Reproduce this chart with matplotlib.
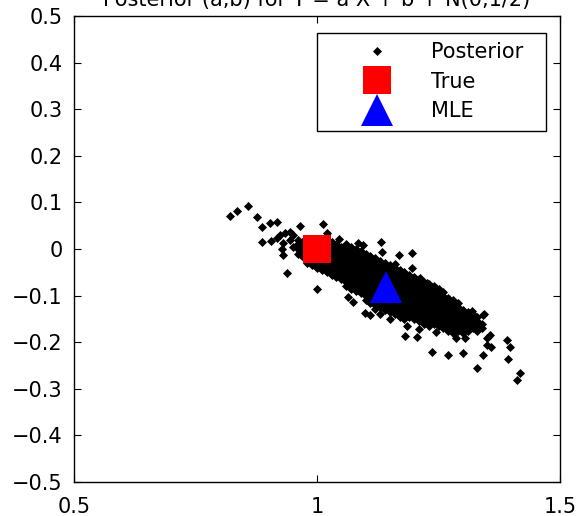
import matplotlib
matplotlib.use("Agg")
import matplotlib.pyplot as plt

plt.rcParams['font.family'] = ['DejaVu Sans']

# dense part of the posterior cloud: one column of b values per a value
core_cols = [0.96, 0.97, 0.98, 0.99, 1.00, 1.01, 1.02, 1.03, 1.04, 1.05,
             1.06, 1.07, 1.08, 1.09, 1.10, 1.11, 1.12, 1.13, 1.14, 1.15,
             1.16, 1.17, 1.18, 1.19, 1.20, 1.21, 1.22, 1.23, 1.24, 1.25,
             1.26, 1.27, 1.28, 1.29, 1.30, 1.31, 1.32, 1.33, 1.34]
core_rows = [
    [0.02, 0.01, 0.00, -0.01],
    [0.015, 0.005, -0.005, -0.015],
    [0.02, 0.01, 0.00, -0.01, -0.02, -0.03],
    [0.015, 0.005, -0.005, -0.015, -0.025, -0.035],
    [0.02, 0.01, 0.00, -0.01, -0.02, -0.03, -0.04],
    [0.015, 0.005, -0.005, -0.015, -0.025, -0.035, -0.045],
    [0.02, 0.01, 0.00, -0.01, -0.02, -0.03, -0.04, -0.05],
    [0.015, 0.005, -0.005, -0.015, -0.025, -0.035, -0.045, -0.055],
    [0.01, 0.00, -0.01, -0.02, -0.03, -0.04, -0.05, -0.06],
    [0.005, -0.005, -0.015, -0.025, -0.035, -0.045, -0.055, -0.065],
    [0.01, 0.00, -0.01, -0.02, -0.03, -0.04, -0.05, -0.06, -0.07, -0.08],
    [0.005, -0.005, -0.015, -0.025, -0.035, -0.045, -0.055, -0.065, -0.075, -0.085],
    [0.00, -0.01, -0.02, -0.03, -0.04, -0.05, -0.06, -0.07, -0.08, -0.09],
    [-0.005, -0.015, -0.025, -0.035, -0.045, -0.055, -0.065, -0.075, -0.085, -0.095],
    [-0.01, -0.02, -0.03, -0.04, -0.05, -0.06, -0.07, -0.08, -0.09, -0.10, -0.11],
    [-0.015, -0.025, -0.035, -0.045, -0.055, -0.065, -0.075, -0.085, -0.095, -0.105, -0.115],
    [-0.02, -0.03, -0.04, -0.05, -0.06, -0.07, -0.08, -0.09, -0.10, -0.11, -0.12],
    [-0.025, -0.035, -0.045, -0.055, -0.065, -0.075, -0.085, -0.095, -0.105, -0.115, -0.125],
    [-0.03, -0.04, -0.05, -0.06, -0.07, -0.08, -0.09, -0.10, -0.11, -0.12, -0.13],
    [-0.035, -0.045, -0.055, -0.065, -0.075, -0.085, -0.095, -0.105, -0.115, -0.125, -0.135],
    [-0.04, -0.05, -0.06, -0.07, -0.08, -0.09, -0.10, -0.11, -0.12, -0.13, -0.14],
    [-0.045, -0.055, -0.065, -0.075, -0.085, -0.095, -0.105, -0.115, -0.125, -0.135, -0.145],
    [-0.05, -0.06, -0.07, -0.08, -0.09, -0.10, -0.11, -0.12, -0.13, -0.14, -0.15],
    [-0.055, -0.065, -0.075, -0.085, -0.095, -0.105, -0.115, -0.125, -0.135, -0.145],
    [-0.06, -0.07, -0.08, -0.09, -0.10, -0.11, -0.12, -0.13, -0.14, -0.15],
    [-0.065, -0.075, -0.085, -0.095, -0.105, -0.115, -0.125, -0.135, -0.145, -0.155],
    [-0.07, -0.08, -0.09, -0.10, -0.11, -0.12, -0.13, -0.14, -0.15, -0.16],
    [-0.075, -0.085, -0.095, -0.105, -0.115, -0.125, -0.135, -0.145, -0.155, -0.165],
    [-0.08, -0.09, -0.10, -0.11, -0.12, -0.13, -0.14, -0.15, -0.16],
    [-0.085, -0.095, -0.105, -0.115, -0.125, -0.135, -0.145, -0.155, -0.165],
    [-0.10, -0.11, -0.12, -0.13, -0.14, -0.15, -0.16, -0.17],
    [-0.105, -0.115, -0.125, -0.135, -0.145, -0.155, -0.165, -0.175],
    [-0.11, -0.12, -0.13, -0.14, -0.15, -0.16, -0.17, -0.18],
    [-0.115, -0.125, -0.135, -0.145, -0.155, -0.165, -0.175],
    [-0.13, -0.14, -0.15, -0.16, -0.17, -0.18],
    [-0.135, -0.145, -0.155, -0.165, -0.175],
    [-0.14, -0.15, -0.16, -0.17],
    [-0.145, -0.155, -0.165, -0.175],
    [-0.16, -0.17],
]

# scattered samples outside the dense core
stray_a = [0.820, 0.835, 0.857, 0.876, 0.886, 0.903, 0.917, 0.886, 0.905, 0.924,
           0.931, 0.939, 0.965, 1.013, 1.020, 1.001, 1.095, 1.132, 1.133, 1.169,
           1.195, 1.212, 1.075, 1.099, 1.109, 1.181, 1.205, 1.236, 1.270, 1.301,
           1.329, 1.342, 1.349, 1.357, 1.344, 1.390, 1.397, 1.394, 1.411, 1.418,
           0.918, 0.934, 0.944, 0.951, 0.959, 0.930, 0.928, 0.945, 0.950, 1.064,
           1.318, 1.342, 1.260, 1.226, 1.355, 1.350, 1.185, 1.210, 1.245, 1.150,
           1.130, 1.045, 1.085, 1.160, 1.285, 1.305, 1.195, 1.120]
stray_b = [0.071, 0.082, 0.092, 0.068, 0.047, 0.055, 0.059, 0.016, 0.018, 0.030,
           0.012, -0.051, 0.049, 0.053, 0.034, -0.086, 0.009, 0.014, -0.006, -0.013,
           -0.009, -0.063, -0.113, -0.137, -0.142, -0.186, -0.188, -0.220, -0.228, -0.224,
           -0.256, -0.228, -0.206, -0.210, -0.140, -0.195, -0.210, -0.235, -0.281, -0.266,
           0.023, 0.034, 0.036, 0.030, 0.009, -0.013, 0.001, 0.020, 0.005, -0.102,
           -0.134, -0.141, -0.092, -0.074, -0.185, -0.190, -0.165, -0.172, -0.178, -0.150,
           -0.140, 0.022, 0.012, -0.033, -0.190, -0.192, -0.040, -0.128]

true_ab = (1.0, 0.0)
mle_ab = (1.143, -0.082)

x_ticks = [0.5, 1.0, 1.5]
x_ticklabels = ['0.5', '1', '1.5']
y_ticks = [0.5, 0.4, 0.3, 0.2, 0.1, 0.0, -0.1, -0.2, -0.3, -0.4, -0.5]
y_ticklabels = ['0.5', '0.4', '0.3', '0.2', '0.1', '0',
                '\u22120.1', '\u22120.2', '\u22120.3', '\u22120.4', '\u22120.5']

title = 'Posterior (a,b) for Y = a X + b + N(0,1/2)'

post_a = []
post_b = []
for a, col in zip(core_cols, core_rows):
    post_a += [a] * len(col)
    post_b += col
post_a += stray_a
post_b += stray_b

fig = plt.figure(figsize=(5.78, 5.16), dpi=100)
ax = fig.add_axes([74 / 578, 34 / 516, 486 / 578, 466 / 516])

ax.plot(post_a, post_b, 'D', color='k', markersize=3.0, markeredgewidth=1.6,
        linestyle='none', label='Posterior')
ax.plot([true_ab[0]], [true_ab[1]], 's', color='#ff0000', markersize=20,
        markeredgewidth=0, linestyle='none', label='True')
ax.plot([mle_ab[0]], [mle_ab[1]], '^', color='#0000ff', markersize=23,
        markeredgewidth=0, linestyle='none', label='MLE')

ax.set_xlim(0.5, 1.5)
ax.set_ylim(-0.5, 0.5)
ax.set_xticks(x_ticks)
ax.set_xticklabels(x_ticklabels)
ax.set_yticks(y_ticks)
ax.set_yticklabels(y_ticklabels)
ax.tick_params(direction='in', top=True, right=True, length=5, width=0.8,
               labelsize=15)
ax.tick_params(axis='x', pad=11)
ax.tick_params(axis='y', pad=8)
for sp in ax.spines.values():
    sp.set_linewidth(1.0)

leg = ax.legend(loc='upper left', bbox_to_anchor=(0.5, 0.5, 0.4712, 0.4635),
                mode='expand', borderaxespad=0, fontsize=15, frameon=True,
                fancybox=False, edgecolor='k', framealpha=1, handlelength=4.87,
                handletextpad=0.16, borderpad=0.45, labelspacing=0.45,
                numpoints=1)
leg.get_frame().set_linewidth(1.0)

fig.text(317 / 578, 1 - 6 / 516, title, ha='center', va='baseline', fontsize=15)

fig.savefig('out.png', dpi=100)
